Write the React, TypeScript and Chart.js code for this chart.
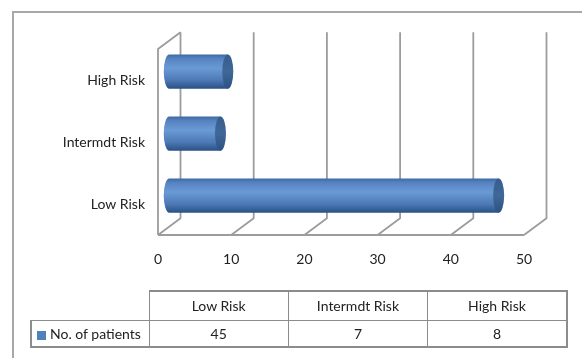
import React, { useEffect, useRef } from "react";
import { Chart, registerables } from "chart.js";

Chart.register(...registerables);

const categories = ["Low Risk", "Intermdt Risk", "High Risk"];
const patients = [45, 7, 8];
const seriesName = "No. of patients";
const xMin = 0;
const xMax = 50;
const xStep = 10;

const DEPTH_X = 22.5;
const DEPTH_Y = -16.8;
const FONT = "Lato, 'Open Sans', sans-serif";
const FONT_SIZE = 14;
const TEXT = "#222222";
const GRID = "#9c9c9c";

const frame3d = {
  id: "frame3d",
  beforeDatasetsDraw(chart: any) {
    const { ctx, chartArea: a } = chart;
    const xs = chart.scales.x;
    const backTop = a.top + DEPTH_Y;
    const backBottom = a.bottom + DEPTH_Y;
    ctx.save();
    ctx.strokeStyle = GRID;
    ctx.lineWidth = 1.8;
    ctx.lineJoin = "round";
    ctx.beginPath();
    ctx.moveTo(a.left, a.bottom);
    ctx.lineTo(a.left, a.top);
    ctx.lineTo(a.left + DEPTH_X, backTop);
    ctx.moveTo(a.left, a.bottom);
    ctx.lineTo(a.right, a.bottom);
    xs.ticks.forEach((t: any) => {
      const px = xs.getPixelForValue(t.value);
      ctx.moveTo(px, a.bottom);
      ctx.lineTo(px + DEPTH_X, backBottom);
      ctx.lineTo(px + DEPTH_X, backTop);
    });
    ctx.stroke();
    ctx.restore();
  },
};

const cylinders = {
  id: "cylinders",
  afterDatasetsDraw(chart: any) {
    const { ctx } = chart;
    const meta = chart.getDatasetMeta(0);
    meta.data.forEach((el: any) => {
      const { x, y, base, height } = el.getProps(["x", "y", "base", "height"], true);
      const ox = DEPTH_X / 2;
      const oy = DEPTH_Y / 2;
      const x0 = base + ox;
      const x1 = x + ox;
      const cy = y + oy;
      const h = height;
      const top = cy - h / 2;
      const bot = cy + h / 2;
      const rx = 5.5;
      const g = ctx.createLinearGradient(0, top, 0, bot);
      g.addColorStop(0, "#3d6aa3");
      g.addColorStop(0.12, "#5683c0");
      g.addColorStop(0.4, "#6a9ad5");
      g.addColorStop(0.75, "#4d79b5");
      g.addColorStop(1, "#2a5186");
      ctx.save();
      ctx.fillStyle = g;
      ctx.beginPath();
      ctx.moveTo(x1, top);
      ctx.lineTo(x0, top);
      ctx.ellipse(x0, cy, rx, h / 2, 0, -Math.PI / 2, Math.PI / 2, true);
      ctx.lineTo(x1, bot);
      ctx.closePath();
      ctx.fill();
      const gc = ctx.createLinearGradient(0, top, 0, bot);
      gc.addColorStop(0, "#365d8d");
      gc.addColorStop(0.5, "#3f6798");
      gc.addColorStop(1, "#2d5282");
      ctx.fillStyle = gc;
      ctx.beginPath();
      ctx.ellipse(x1, cy, rx, h / 2, 0, 0, Math.PI * 2);
      ctx.fill();
      ctx.restore();
    });
  },
};

export default function App() {
  const canvasRef = useRef<HTMLCanvasElement>(null);

  useEffect(() => {
    const canvas = canvasRef.current;
    if (!canvas) return;
    const chart = new Chart(canvas, {
      type: "bar",
      data: {
        labels: categories,
        datasets: [
          {
            label: seriesName,
            data: patients,
            backgroundColor: "rgba(0,0,0,0)",
            borderWidth: 0,
            categoryPercentage: 1,
            barPercentage: 0.55,
          },
        ],
      },
      options: {
        indexAxis: "y",
        responsive: false,
        animation: false,
        devicePixelRatio: 1,
        layout: { padding: { left: 0, top: 49, right: 58, bottom: 93 } },
        plugins: {
          legend: { display: false },
          tooltip: { enabled: false },
          title: { display: false },
        },
        scales: {
          x: {
            type: "linear",
            min: xMin,
            max: xMax,
            ticks: {
              stepSize: xStep,
              color: TEXT,
              font: { family: FONT, size: FONT_SIZE },
              padding: 16,
            },
            grid: { display: false, drawTicks: false },
            border: { display: false },
            afterFit: (s: any) => {
              s.height = 30;
            },
          },
          y: {
            type: "category",
            reverse: true,
            ticks: {
              color: TEXT,
              font: { family: FONT, size: FONT_SIZE },
              padding: 13,
            },
            grid: { display: false, drawTicks: false },
            border: { display: false },
            afterFit: (s: any) => {
              s.width = 158;
            },
          },
        },
      },
      plugins: [frame3d, cylinders],
    });
    return () => chart.destroy();
  }, []);

  const LINE = "#8c8c8c";
  const cellBase: React.CSSProperties = {
    border: `1px solid ${LINE}`,
    textAlign: "center",
    verticalAlign: "middle",
    padding: 0,
    fontFamily: FONT,
    fontSize: FONT_SIZE,
    color: TEXT,
  };

  return (
    <div
      style={{
        position: "fixed",
        left: 0,
        top: 0,
        width: 582,
        height: 358,
        overflow: "hidden",
        background: "#ffffff",
      }}
    >
      <div
        style={{
          position: "absolute",
          left: 12,
          top: 11,
          width: 700,
          height: 700,
          borderLeft: "2px solid #a8a8a8",
          borderTop: "2px solid #a8a8a8",
        }}
      />
      <canvas
        ref={canvasRef}
        width={582}
        height={358}
        style={{ position: "absolute", left: 0, top: 0, display: "block" }}
      />
      <table
        style={{
          position: "absolute",
          left: 30,
          top: 290,
          width: 536,
          borderCollapse: "collapse",
          tableLayout: "fixed",
        }}
      >
        <colgroup>
          <col style={{ width: 118 }} />
          {categories.map((c) => (
            <col key={c} style={{ width: 139.3 }} />
          ))}
        </colgroup>
        <tbody>
          <tr style={{ height: 29 }}>
            <td style={{ ...cellBase, border: "none" }}></td>
            {categories.map((c, i) => (
              <td
                key={c}
                style={{
                  ...cellBase,
                  borderTop: `2px solid ${LINE}`,
                  borderRight: i === categories.length - 1 ? `2px solid ${LINE}` : `1px solid ${LINE}`,
                }}
              >
                {c}
              </td>
            ))}
          </tr>
          <tr style={{ height: 27 }}>
            <td
              style={{
                ...cellBase,
                textAlign: "left",
                paddingLeft: 5,
                borderLeft: `2px solid ${LINE}`,
                borderBottom: `2px solid ${LINE}`,
                whiteSpace: "nowrap",
              }}
            >
              <span
                style={{
                  display: "inline-block",
                  width: 9,
                  height: 9,
                  background: "#4f81bd",
                  marginRight: 4,
                  verticalAlign: "-1px",
                }}
              />
              {seriesName}
            </td>
            {patients.map((v, i) => (
              <td
                key={i}
                style={{
                  ...cellBase,
                  borderBottom: `2px solid ${LINE}`,
                  borderRight: i === patients.length - 1 ? `2px solid ${LINE}` : `1px solid ${LINE}`,
                }}
              >
                {v}
              </td>
            ))}
          </tr>
        </tbody>
      </table>
    </div>
  );
}
